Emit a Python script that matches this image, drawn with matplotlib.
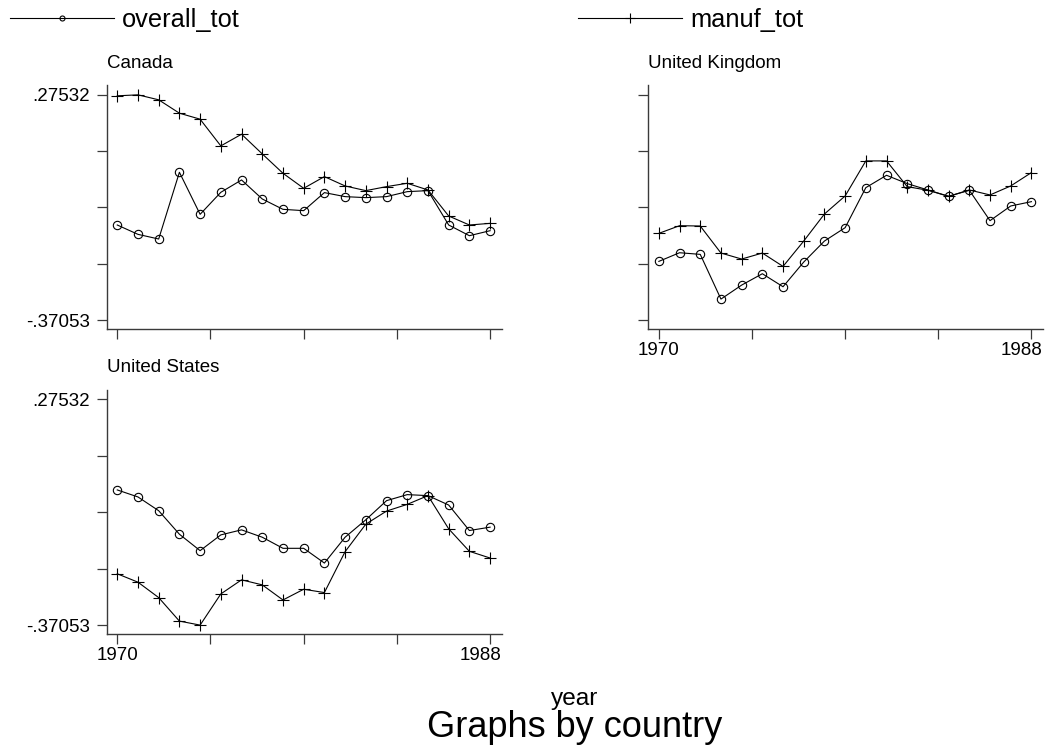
import matplotlib
matplotlib.use('Agg')
import matplotlib.pyplot as plt
import matplotlib.transforms as mtransforms
import numpy as np

plt.rcParams['font.family'] = ['Liberation Sans', 'DejaVu Sans']

years = list(range(1970, 1989))

# values
canada_overall = [-0.0978, -0.1246, -0.1380, 0.0533, -0.0672, -0.0041, 0.0313, -0.0232, -0.0529, -0.0567,
                  -0.0050, -0.0165, -0.0194, -0.0165, -0.0022, 0.0007, -0.0978, -0.1285, -0.1141]
canada_manuf = [0.2725, 0.2753, 0.2610, 0.2227, 0.2055, 0.1289, 0.1624, 0.1060, 0.0505, 0.0074,
                0.0409, 0.0141, 0.0007, 0.0122, 0.0218, 0.0026, -0.0720, -0.0978, -0.0931]
uk_overall = [-0.2021, -0.1773, -0.1820, -0.3102, -0.2701, -0.2375, -0.2748, -0.2040, -0.1438, -0.1055,
              0.0093, 0.0447, 0.0208, 0.0026, -0.0156, 0.0017, -0.0854, -0.0433, -0.0309]
uk_manuf = [-0.1218, -0.0998, -0.1007, -0.1782, -0.1954, -0.1782, -0.2165, -0.1438, -0.0663, -0.0146,
            0.0859, 0.0859, 0.0122, 0.0017, -0.0156, 0.0026, -0.0117, 0.0141, 0.0524]
us_overall = [0.0162, -0.0039, -0.0433, -0.1105, -0.1575, -0.1124, -0.0980, -0.1191, -0.1508, -0.1508,
              -0.1930, -0.1191, -0.0692, -0.0145, 0.0028, -0.0001, -0.0270, -0.0999, -0.0903]
us_manuf = [-0.2237, -0.2477, -0.2918, -0.3590, -0.3705, -0.2813, -0.2410, -0.2554, -0.2986, -0.2679,
            -0.2774, -0.1604, -0.0817, -0.0443, -0.0251, -0.0001, -0.0951, -0.1594, -0.1786]

ymax = 0.27532
ymin = -0.37053
ytick_labels = ['-.37053', '', '', '', '.27532']
xtick_labels = ['1970', '', '', '', '1988']

W, H = 1047, 752
fig = plt.figure(figsize=(W / 100, H / 100), dpi=100)

def px(left, top, right, bottom):
    return [left / W, 1 - bottom / H, (right - left) / W, (bottom - top) / H]

panels = [
    ('Canada', canada_overall, canada_manuf, px(106.7, 85, 501.7, 328.5), True, False),
    ('United Kingdom', uk_overall, uk_manuf, px(648.3, 85, 1043, 328.5), False, True),
    ('United States', us_overall, us_manuf, px(106.7, 389.5, 501.7, 633.5), True, True),
]

axis_col = '#3a3a3a'
shift = mtransforms.ScaledTranslation(-10 / 100, 0, fig.dpi_scale_trans)
for name, ov, mf, rect, ylab, xlab in panels:
    ax = fig.add_axes(rect)
    l1, = ax.plot(years, ov, color='black', lw=0.8, marker='o', ms=6,
                  mfc='none', mec='black', mew=0.8)
    l2, = ax.plot(years, mf, color='black', lw=0.8, marker='+', ms=9, mew=0.8)
    ax.set_xlim(1969.49, 1988.56)
    ax.set_ylim(-0.3945, 0.3035)
    ax.set_yticks(np.linspace(ymin, ymax, 5))
    ax.set_xticks(np.linspace(years[0], years[-1], 5))
    ax.set_yticklabels(ytick_labels if ylab else [''] * 5)
    ax.set_xticklabels(xtick_labels if xlab else [''] * 5)
    for s in ['top', 'right']:
        ax.spines[s].set_visible(False)
    for s in ['left', 'bottom']:
        ax.spines[s].set_color(axis_col)
        ax.spines[s].set_linewidth(1.0)
    ax.tick_params(axis='both', length=7, width=0.9, color=axis_col, labelsize=13.5)
    ax.tick_params(axis='y', pad=5)
    ax.tick_params(axis='x', pad=3)
    # last year label sits a bit left of its tick, as in the original
    last = ax.get_xticklabels()[-1]
    last.set_transform(last.get_transform() + shift)
    ax.set_title(name, loc='left', pad=12.5, fontsize=13.5)

fig.legend([l1], ['overall_tot'], loc='center left', bbox_to_anchor=(10 / W, 1 - 20 / H),
           frameon=False, fontsize=18.3, handlelength=4.1, handletextpad=0.3,
           borderpad=0, borderaxespad=0, numpoints=1, markerscale=0.6)
fig.legend([l2], ['manuf_tot'], loc='center left', bbox_to_anchor=(578 / W, 1 - 20 / H),
           frameon=False, fontsize=18.3, handlelength=4.1, handletextpad=0.3,
           borderpad=0, borderaxespad=0, numpoints=1, markerscale=0.8)

fig.text(575 / W, 1 - 705 / H, 'year', ha='center', va='baseline', fontsize=17.6)
fig.text(575 / W, 1 - 737 / H, 'Graphs by country', ha='center', va='baseline', fontsize=26)

fig.savefig('out.png', dpi=100)
